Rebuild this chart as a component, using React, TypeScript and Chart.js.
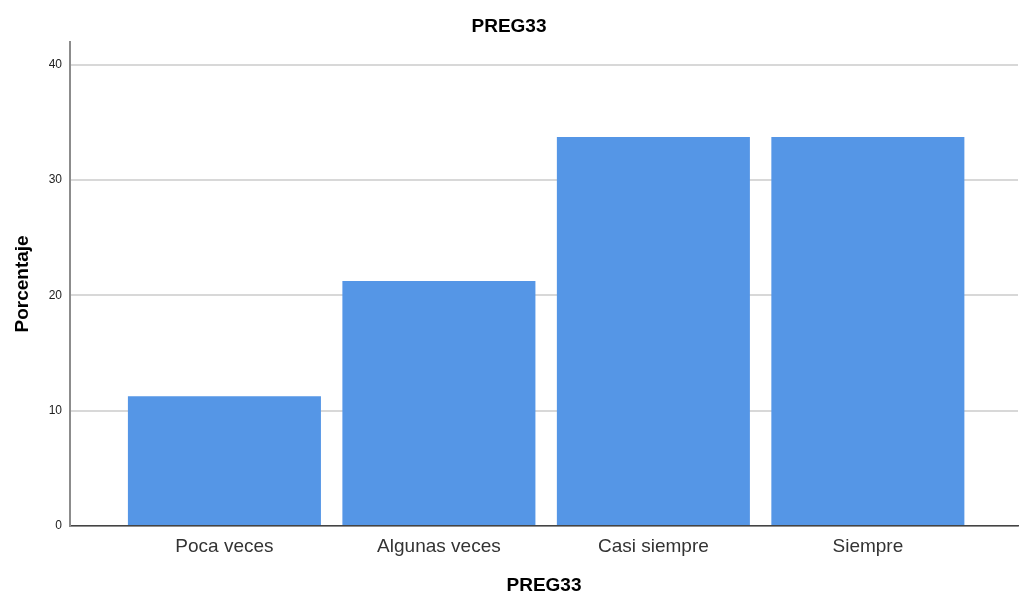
import React, { useEffect, useRef } from "react";
import { Chart, registerables } from "chart.js";

Chart.register(...registerables);

const categories: string[] = ["Poca veces", "Algunas veces", "Casi siempre", "Siempre"];
const percentages: number[] = [11.25, 21.25, 33.75, 33.75];
const yTicks: number[] = [0, 10, 20, 30, 40];
const chartTitle = "PREG33";
const xTitle = "PREG33";
const yTitle = "Porcentaje";

export default function App() {
  const ref = useRef<HTMLCanvasElement | null>(null);

  useEffect(() => {
    if (!ref.current) return;
    const font = "'Liberation Sans', Arial, sans-serif";
    const chart = new Chart(ref.current, {
      type: "bar",
      data: {
        datasets: [
          {
            data: percentages.map((v, i) => ({ x: i + 1, y: v })),
            backgroundColor: "#5596E6",
            borderWidth: 0,
            barPercentage: 0.9,
            categoryPercentage: 1,
          },
        ],
      },
      options: {
        animation: false,
        responsive: true,
        maintainAspectRatio: false,
        layout: { padding: { left: 0, right: 1, top: 0, bottom: 0 } },
        plugins: {
          legend: { display: false },
          tooltip: { enabled: false },
          title: {
            display: true,
            text: chartTitle,
            color: "#000",
            font: { family: font, size: 19, weight: "bold", lineHeight: 1.2 },
            padding: { top: 15, bottom: 4 },
          },
        },
        scales: {
          x: {
            type: "linear",
            offset: false,
            min: 0.28,
            max: 4.7,
            afterBuildTicks: (scale: any) => {
              scale.ticks = categories.map((_, i) => ({ value: i + 1 }));
            },
            afterFit: (scale: any) => {
              scale.height = 66;
            },
            grid: { display: false, drawTicks: false, offset: false },
            border: { display: true, color: "#444", width: 1.5 },
            ticks: {
              autoSkip: false,
              maxRotation: 0,
              padding: 9,
              color: "#333",
              font: { family: font, size: 19 },
              callback: (value: any) => {
                const idx = Number(value) - 1;
                return Number.isInteger(idx) && categories[idx] ? categories[idx] : "";
              },
            },
            title: {
              display: true,
              text: xTitle,
              color: "#000",
              font: { family: font, size: 19, weight: "bold", lineHeight: 1 },
              padding: { top: 0, bottom: -3 },
            },
          },
          y: {
            min: 0,
            max: 42,
            afterBuildTicks: (scale: any) => {
              scale.ticks = yTicks.map((v) => ({ value: v }));
            },
            afterFit: (scale: any) => {
              scale.width = 70;
            },
            grid: { color: "#d8d8d8", lineWidth: 2, drawTicks: false },
            border: { display: true, color: "#8c8c8c", width: 2 },
            ticks: {
              padding: 8,
              color: "#222",
              font: { family: font, size: 12 },
            },
            title: {
              display: true,
              text: yTitle,
              color: "#000",
              font: { family: font, size: 19, weight: "bold", lineHeight: 1.2 },
              padding: { top: 11.5, bottom: 0 },
            },
          },
        },
      },
    });
    return () => chart.destroy();
  }, []);

  return (
    <div style={{ position: "fixed", left: 0, top: 0, width: 1019, height: 592, background: "#fff" }}>
      <canvas ref={ref} />
    </div>
  );
}
